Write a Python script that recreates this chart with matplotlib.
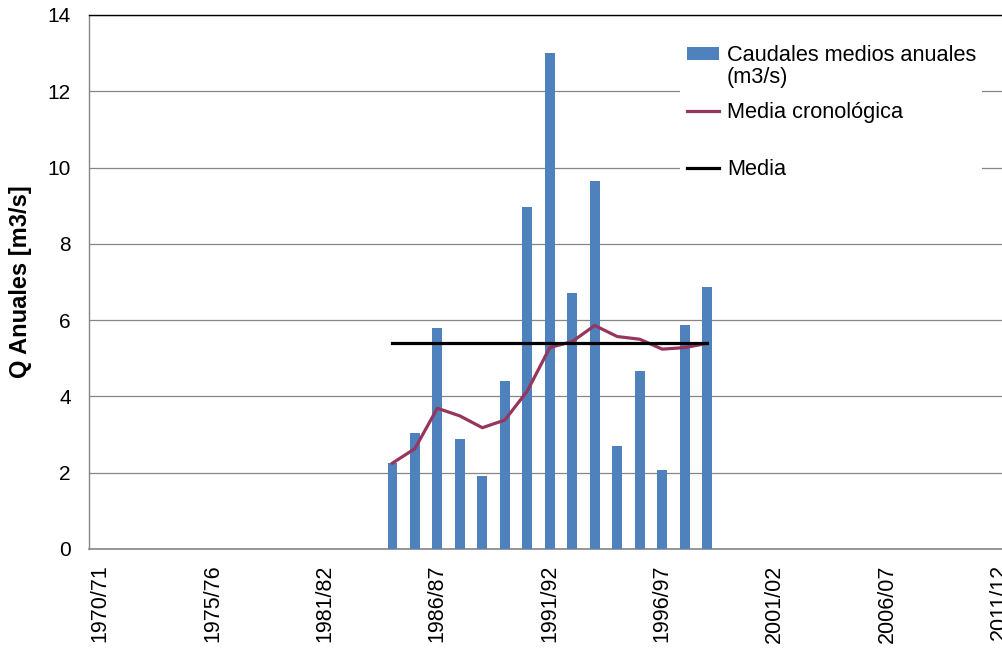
import matplotlib
matplotlib.use("Agg")
import matplotlib.pyplot as plt
import numpy as np

plt.rcParams['font.family'] = ['Liberation Sans', 'DejaVu Sans']

# ---- data ----
categories = ['1970/71', '1971/72', '1972/73', '1973/74', '1974/75', '1975/76',
              '1976/77', '1977/78', '1978/79', '1980/81', '1981/82', '1982/83',
              '1983/84', '1984/85', '1985/86', '1986/87', '1987/88', '1988/89',
              '1989/90', '1990/91', '1991/92', '1992/93', '1993/94', '1994/95',
              '1995/96', '1996/97', '1997/98', '1998/99', '1999/00', '2000/01',
              '2001/02', '2002/03', '2003/04', '2004/05', '2005/06', '2006/07',
              '2007/08', '2008/09', '2009/10', '2010/11', '2011/12']
data_years = ['1984/85', '1985/86', '1986/87', '1987/88', '1988/89', '1989/90',
              '1990/91', '1991/92', '1992/93', '1993/94', '1994/95', '1995/96',
              '1996/97', '1997/98', '1998/99']
caudales = [2.25, 3.04, 5.79, 2.88, 1.91, 4.40, 8.97, 13.0, 6.71, 9.65, 2.70,
            4.67, 2.07, 5.87, 6.87]
media_cronologica = [2.25, 2.63, 3.69, 3.49, 3.18, 3.38, 4.14, 5.28, 5.44, 5.86,
                     5.57, 5.50, 5.24, 5.28, 5.39]
media = [5.39] * len(data_years)
tick_labels = ['1970/71', '1975/76', '1981/82', '1986/87', '1991/92', '1996/97',
               '2001/02', '2006/07', '2011/12']

# ---- figure ----
W, H = 1002, 649
fig = plt.figure(figsize=(W / 100, H / 100), dpi=100)
left_px, right_px, top_px, bot_px = 88.75, 1010.8, 15, 549
ax = fig.add_axes([left_px / W, 1 - bot_px / H, (right_px - left_px) / W,
                   (bot_px - top_px) / H])

# register all categories in order
ax.plot(categories, [np.nan] * len(categories))

bar_color = '#4F81BD'
cron_color = '#96365F'
bars = ax.bar(data_years, caudales, width=0.43, color=bar_color, zorder=3,
              label='Caudales medios anuales\n(m3/s)')
l_cron, = ax.plot(data_years, media_cronologica, color=cron_color, lw=2.3,
                  zorder=4, label='Media cronológica')
l_media, = ax.plot(data_years, media, color='black', lw=2.3, zorder=4,
                   label='Media')

ax.set_xlim(-0.5, len(categories) - 0.5)
ax.set_ylim(0, 14)
ax.set_yticks(np.arange(0, 15, 2))
ax.set_xticks(tick_labels)
ax.set_xticklabels(tick_labels, rotation=90)
ax.tick_params(axis='both', length=0, colors='black')
ax.tick_params(axis='x', pad=11, labelsize=15.5)
ax.tick_params(axis='y', pad=13, labelsize=15)

ax.grid(axis='y', color='#868686', lw=0.9, zorder=0)
ax.set_axisbelow(True)
ax.spines['right'].set_visible(False)
ax.spines['top'].set_color('black')
ax.spines['top'].set_linewidth(1.0)
ax.spines['left'].set_color('#868686')
ax.spines['bottom'].set_color('#868686')
ax.spines['left'].set_linewidth(1.0)
ax.spines['bottom'].set_linewidth(1.2)

ax.set_ylabel('Q Anuales [m3/s]', fontsize=17, fontweight='bold')
ax.yaxis.set_label_coords(-0.0616, 0.5)

# ---- legends ----
def ax_x(px):
    return (px - left_px) / (right_px - left_px)

def ax_y(py):
    return (bot_px - py) / (bot_px - top_px)

lw_box = ax_x(982) - ax_x(680)
leg_kw = dict(frameon=True, facecolor='white', edgecolor='none', framealpha=1,
              fancybox=False, fontsize=15.7, handlelength=1.5, handleheight=0.5,
              handletextpad=0.35, borderpad=0.3, borderaxespad=0,
              mode='expand', loc='upper left')
leg1 = ax.legend([bars, l_cron],
                 ['Caudales medios anuales\n(m3/s)', 'Media cronológica'],
                 bbox_to_anchor=(ax_x(680), ax_y(38), lw_box, 0),
                 labelspacing=0.65, **leg_kw)
for t in leg1.get_texts():
    t.set_linespacing(1.09)
leg1.set_zorder(6)
# align bar handle with first text line
h0 = leg1.legend_handles[0]
h0.set_y(h0.get_y() + 9.3)
ax.add_artist(leg1)

leg2 = ax.legend([l_media], ['Media'],
                 bbox_to_anchor=(ax_x(680), ax_y(152), lw_box, 0),
                 **leg_kw)
leg2.set_zorder(6)

fig.savefig('out.png', dpi=100)
